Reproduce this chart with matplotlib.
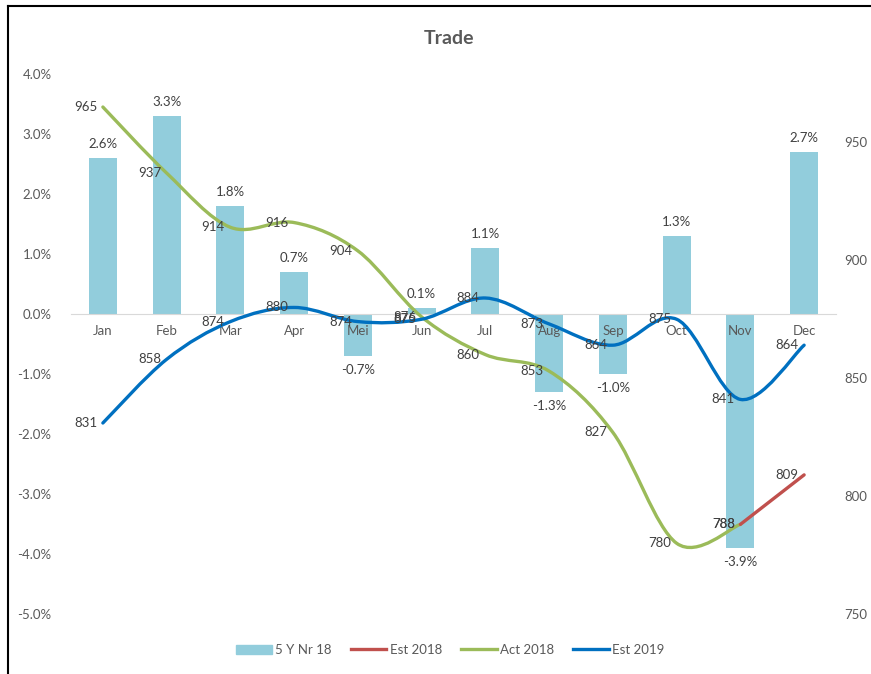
import matplotlib
matplotlib.use("Agg")
import matplotlib.pyplot as plt
from matplotlib.path import Path
from matplotlib.patches import PathPatch
from matplotlib.lines import Line2D
import matplotlib.patches as mpatches

plt.rcParams['font.family'] = ['Lato', 'DejaVu Sans']

months = ["Jan", "Feb", "Mar", "Apr", "Mei", "Jun", "Jul", "Aug", "Sep", "Oct", "Nov", "Dec"]
nr5y = [2.6, 3.3, 1.8, 0.7, -0.7, 0.1, 1.1, -1.3, -1.0, 1.3, -3.9, 2.7]
act2018 = [965, 937, 914, 916, 904, 876, 860, 853, 827, 780, 788]
est2018 = [788, 809]  # Nov, Dec
est2019 = [831, 858, 874, 880, 874, 875, 884, 873, 864, 875, 841, 864]

BAR = "#92CDDC"
GREEN = "#9BBB59"
BLUE = "#0070C0"
RED = "#C0504D"
GREY = "#595959"
DARK = "#404040"


def smoothPath(xs, ys):
    # excel-like smoothed line: bezier segments with catmull-rom control points
    pts = list(zip(xs, ys))
    verts = [pts[0]]
    codes = [Path.MOVETO]
    n = len(pts)
    for i in range(n - 1):
        p0 = pts[i - 1] if i > 0 else pts[i]
        p1 = pts[i]
        p2 = pts[i + 1]
        p3 = pts[i + 2] if i + 2 < n else pts[i + 1]
        c1 = (p1[0] + (p2[0] - p0[0]) / 6.0, p1[1] + (p2[1] - p0[1]) / 6.0)
        c2 = (p2[0] - (p3[0] - p1[0]) / 6.0, p2[1] - (p3[1] - p1[1]) / 6.0)
        verts += [c1, c2, p2]
        codes += [Path.CURVE4] * 3
    return Path(verts, codes)


def addLine(ax, xs, ys, color):
    patch = PathPatch(smoothPath(xs, ys), facecolor="none", edgecolor=color,
                      lw=2.4, capstyle="round", joinstyle="round")
    ax.add_patch(patch)
    for x, y in zip(xs, ys):
        ax.annotate(str(y), (x, y), xytext=(-4, 0), textcoords="offset points",
                    ha="right", va="center", fontsize=9.5, color=DARK)


fig = plt.figure(figsize=(8.71, 6.74), dpi=100)
ax = fig.add_axes([71 / 871, 1 - 614 / 674, (836 - 71) / 871, (614 - 74) / 674])
ax2 = ax.twinx()

x = list(range(len(months)))
ax.bar(x, nr5y, width=0.44, color=BAR, zorder=1)
for i, v in enumerate(nr5y):
    off = 6 if v >= 0 else -6
    ax.annotate("{:.1f}%".format(v), (i, v), xytext=(0, off), textcoords="offset points",
                ha="center", va="bottom" if v >= 0 else "top", fontsize=9.5, color=DARK)

ax.set_xlim(-0.5, 11.5)
ax.set_ylim(-5, 4)
ax.set_yticks(range(-5, 5))
ax.set_yticklabels(["{:.1f}%".format(v) for v in range(-5, 5)])
ax.set_xticks(x)
ax.set_xticklabels(months)
ax.spines['bottom'].set_position(('data', 0))
ax.spines['bottom'].set_color("#D9D9D9")
for s in ['top', 'left', 'right']:
    ax.spines[s].set_visible(False)
for s in ['top', 'left', 'right', 'bottom']:
    ax2.spines[s].set_visible(False)
ax.tick_params(axis='both', length=0, labelsize=9.5, labelcolor=GREY)
ax.tick_params(axis='x', pad=8)
ax.tick_params(axis='y', pad=14)

ax2.set_ylim(750, 979)
ax2.set_yticks([750, 800, 850, 900, 950])
ax2.tick_params(axis='y', length=0, labelsize=9.5, labelcolor=GREY, pad=6)

addLine(ax2, x[:len(act2018)], act2018, GREEN)
addLine(ax2, [10, 11], est2018, RED)
addLine(ax2, x, est2019, BLUE)

fig.text(0.515, 1 - 38 / 674, "Trade", ha="center", va="center",
         fontsize=14, fontweight="bold", color=GREY)

handles = [mpatches.Patch(color=BAR, label="5 Y Nr 18"),
           Line2D([], [], color=RED, lw=2.4, label="Est 2018"),
           Line2D([], [], color=GREEN, lw=2.4, label="Act 2018"),
           Line2D([], [], color=BLUE, lw=2.4, label="Est 2019")]
leg = fig.legend(handles=handles, loc="center", bbox_to_anchor=(0.517, 1 - 650 / 674),
                 ncol=4, frameon=False, fontsize=9.5, handlelength=2.7,
                 handletextpad=0.25, columnspacing=1.45)
for t in leg.get_texts():
    t.set_color(GREY)

# chart border (left and top edges visible)
fig.add_artist(Line2D([8 / 871, 8 / 871], [0, 1 - 6 / 674], color="black", lw=1.5))
fig.add_artist(Line2D([8 / 871, 1], [1 - 6 / 674, 1 - 6 / 674], color="black", lw=1.5))

fig.savefig("out.png", dpi=100)
